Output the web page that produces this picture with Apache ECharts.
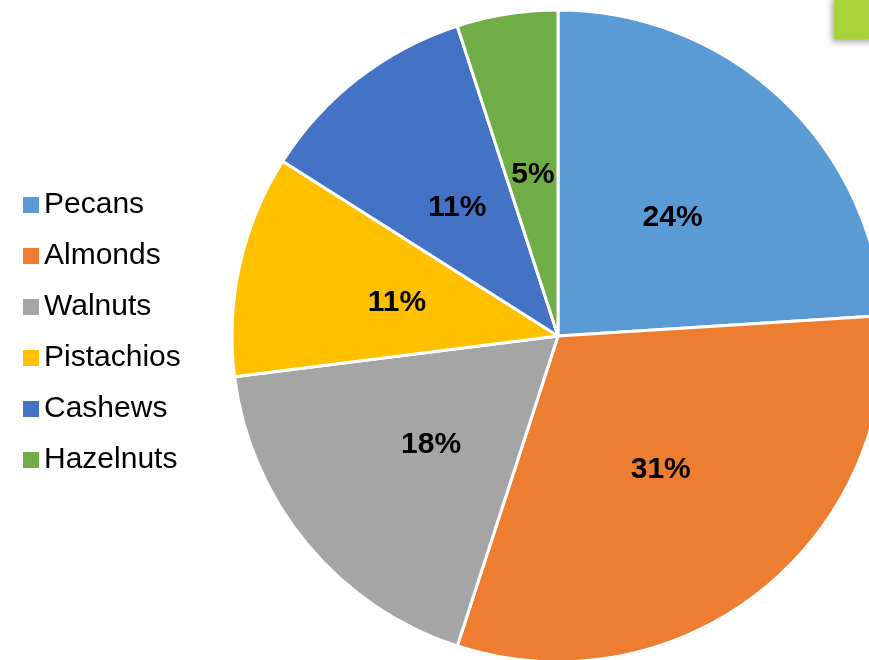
<!DOCTYPE html>
<html>
<head>
<meta charset="utf-8">
<script src="https://cdn.jsdelivr.net/npm/echarts@6/dist/echarts.min.js"></script>
<style>
html,body{margin:0;padding:0;background:#fff;}
#chart{width:869px;height:660px;}
</style>
</head>
<body>
<div id="chart"></div>
<script>
const categories = ["Pecans", "Almonds", "Walnuts", "Pistachios", "Cashews", "Hazelnuts"];
const values = [24, 31, 18, 11, 11, 5];
const colors = ["#5B9BD5", "#ED7D31", "#A5A5A5", "#FFC000", "#4472C4", "#70AD47"];

const FONT = "'Liberation Sans', Arial, sans-serif";
const chart = echarts.init(document.getElementById('chart'), null, {renderer: 'canvas'});
chart.setOption({
  animation: false,
  backgroundColor: '#ffffff',
  color: colors,
  legend: {
    orient: 'vertical',
    left: 18,
    top: 185,
    itemWidth: 16,
    itemHeight: 16,
    itemGap: 21,
    itemTextGap: 8,
    icon: 'rect',
    itemStyle: {borderWidth: 0},
    textStyle: {fontFamily: FONT, fontSize: 30, color: '#000'},
    data: categories
  },
  graphic: [{
    type: 'rect',
    shape: {x: 834, y: -5, width: 40, height: 44},
    style: {fill: '#A8D13A', shadowBlur: 6, shadowColor: 'rgba(0,0,0,0.35)', shadowOffsetX: -2, shadowOffsetY: 3},
    z: 10
  }],
  series: [{
    type: 'pie',
    center: [558, 336],
    radius: 326,
    startAngle: 90,
    clockwise: true,
    itemStyle: {borderColor: '#fff', borderWidth: 3},
    label: {
      position: 'inside',
      formatter: p => p.value + '%',
      fontFamily: FONT,
      fontSize: 30,
      fontWeight: 'bold',
      color: '#000',
      offset: [1, 3]
    },
    labelLine: {show: false},
    emphasis: {disabled: true},
    data: categories.map((c, i) => ({name: c, value: values[i]}))
  }]
});
</script>
</body>
</html>
